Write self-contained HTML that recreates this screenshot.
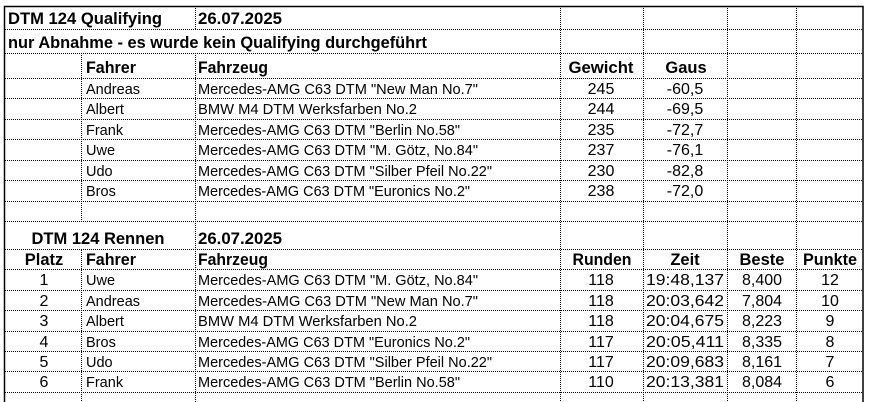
<!DOCTYPE html>
<html><head><meta charset="utf-8"><style>
html,body{margin:0;padding:0;background:#fff;}
svg{display:block;}
text{font-family:"Liberation Sans",sans-serif;fill:#000;}
.b{font-weight:bold;font-size:17px;}
.r{font-size:14.5px;}
.n{font-size:16px;}
.h{font-weight:bold;font-size:16.5px;}
.g line{stroke:#000;stroke-width:1;stroke-dasharray:1,1;}
</style></head><body>
<svg width="875" height="402" viewBox="0 0 875 402" xmlns="http://www.w3.org/2000/svg">
<rect x="0" y="0" width="875" height="402" fill="#fff"/>
<g class="g">
<line x1="5" x2="863" y1="29.5" y2="29.5"/>
<line x1="5" x2="863" y1="53.5" y2="53.5"/>
<line x1="5" x2="863" y1="78.5" y2="78.5"/>
<line x1="5" x2="863" y1="98.5" y2="98.5"/>
<line x1="5" x2="863" y1="119.5" y2="119.5"/>
<line x1="5" x2="863" y1="139.5" y2="139.5"/>
<line x1="5" x2="863" y1="160.5" y2="160.5"/>
<line x1="5" x2="863" y1="180.5" y2="180.5"/>
<line x1="5" x2="863" y1="201.5" y2="201.5"/>
<line x1="5" x2="863" y1="221.5" y2="221.5"/>
<line x1="5" x2="863" y1="249.5" y2="249.5"/>
<line x1="5" x2="863" y1="269.5" y2="269.5"/>
<line x1="5" x2="863" y1="290.5" y2="290.5"/>
<line x1="5" x2="863" y1="310.5" y2="310.5"/>
<line x1="5" x2="863" y1="331.5" y2="331.5"/>
<line x1="5" x2="863" y1="351.5" y2="351.5"/>
<line x1="5" x2="863" y1="371.5" y2="371.5"/>
<line x1="5" x2="863" y1="392.5" y2="392.5"/>
<line x1="81.5" x2="81.5" y1="53" y2="222"/>
<line x1="81.5" x2="81.5" y1="250" y2="402"/>
<line x1="195.5" x2="195.5" y1="6" y2="29"/>
<line x1="195.5" x2="195.5" y1="53" y2="402"/>
<line x1="560.5" x2="560.5" y1="6" y2="402"/>
<line x1="643.5" x2="643.5" y1="6" y2="402"/>
<line x1="727.5" x2="727.5" y1="6" y2="402"/>
<line x1="796.5" x2="796.5" y1="6" y2="402"/>
</g>
<path d="M4.5 402 V6.5 H863 V402" fill="none" stroke="#000" stroke-width="1.5"/>

<text class="b" x="8" y="24" textLength="154" lengthAdjust="spacingAndGlyphs">DTM 124 Qualifying</text>
<text class="b" x="198" y="24" textLength="84" lengthAdjust="spacingAndGlyphs">26.07.2025</text>
<text class="b" x="8" y="48" textLength="419" lengthAdjust="spacingAndGlyphs">nur Abnahme - es wurde kein Qualifying durchgeführt</text>

<text class="h" x="86" y="73" textLength="50" lengthAdjust="spacingAndGlyphs">Fahrer</text>
<text class="h" x="198" y="73" textLength="70" lengthAdjust="spacingAndGlyphs">Fahrzeug</text>
<text class="h" x="601" y="73" text-anchor="middle" textLength="65" lengthAdjust="spacingAndGlyphs">Gewicht</text>
<text class="h" x="686" y="73" text-anchor="middle">Gaus</text>

<g class="r">
<text x="86" y="94">Andreas</text><text x="198" y="94" textLength="280" lengthAdjust="spacingAndGlyphs">Mercedes-AMG C63 DTM "New Man No.7"</text>
<text x="86" y="114">Albert</text><text x="198" y="114" textLength="219" lengthAdjust="spacingAndGlyphs">BMW M4 DTM Werksfarben No.2</text>
<text x="86" y="135">Frank</text><text x="198" y="135" textLength="262" lengthAdjust="spacingAndGlyphs">Mercedes-AMG C63 DTM "Berlin No.58"</text>
<text x="86" y="155">Uwe</text><text x="198" y="155" textLength="280" lengthAdjust="spacingAndGlyphs">Mercedes-AMG C63 DTM "M. Götz, No.84"</text>
<text x="86" y="176">Udo</text><text x="198" y="176" textLength="294" lengthAdjust="spacingAndGlyphs">Mercedes-AMG C63 DTM "Silber Pfeil No.22"</text>
<text x="86" y="196">Bros</text><text x="198" y="196" textLength="272" lengthAdjust="spacingAndGlyphs">Mercedes-AMG C63 DTM "Euronics No.2"</text>
</g>
<g class="n" text-anchor="middle">
<text x="601" y="94">245</text><text x="685" y="94">-60,5</text>
<text x="601" y="114">244</text><text x="685" y="114">-69,5</text>
<text x="601" y="135">235</text><text x="685" y="135">-72,7</text>
<text x="601" y="155">237</text><text x="685" y="155">-76,1</text>
<text x="601" y="176">230</text><text x="685" y="176">-82,8</text>
<text x="601" y="196">238</text><text x="685" y="196">-72,0</text>
</g>

<text class="b" x="98" y="244" text-anchor="middle" textLength="133" lengthAdjust="spacingAndGlyphs">DTM 124 Rennen</text>
<text class="b" x="198" y="244" textLength="84" lengthAdjust="spacingAndGlyphs">26.07.2025</text>

<text class="h" x="44" y="265" text-anchor="middle">Platz</text>
<text class="h" x="86" y="265" textLength="50" lengthAdjust="spacingAndGlyphs">Fahrer</text>
<text class="h" x="198" y="265" textLength="70" lengthAdjust="spacingAndGlyphs">Fahrzeug</text>
<text class="h" x="602" y="265" text-anchor="middle" textLength="59" lengthAdjust="spacingAndGlyphs">Runden</text>
<text class="h" x="685" y="265" text-anchor="middle">Zeit</text>
<text class="h" x="762" y="265" text-anchor="middle">Beste</text>
<text class="h" x="830" y="265" text-anchor="middle" textLength="54" lengthAdjust="spacingAndGlyphs">Punkte</text>

<g class="r">
<text x="86" y="285">Uwe</text><text x="198" y="285" textLength="280" lengthAdjust="spacingAndGlyphs">Mercedes-AMG C63 DTM "M. Götz, No.84"</text>
<text x="86" y="306">Andreas</text><text x="198" y="306" textLength="280" lengthAdjust="spacingAndGlyphs">Mercedes-AMG C63 DTM "New Man No.7"</text>
<text x="86" y="326">Albert</text><text x="198" y="326" textLength="219" lengthAdjust="spacingAndGlyphs">BMW M4 DTM Werksfarben No.2</text>
<text x="86" y="347">Bros</text><text x="198" y="347" textLength="272" lengthAdjust="spacingAndGlyphs">Mercedes-AMG C63 DTM "Euronics No.2"</text>
<text x="86" y="367">Udo</text><text x="198" y="367" textLength="294" lengthAdjust="spacingAndGlyphs">Mercedes-AMG C63 DTM "Silber Pfeil No.22"</text>
<text x="86" y="387">Frank</text><text x="198" y="387" textLength="262" lengthAdjust="spacingAndGlyphs">Mercedes-AMG C63 DTM "Berlin No.58"</text>
</g>
<g class="n" text-anchor="middle">
<text x="44" y="285">1</text><text x="601" y="285">118</text><text x="685" y="285" textLength="78" lengthAdjust="spacingAndGlyphs">19:48,137</text><text x="762" y="285">8,400</text><text x="830" y="285">12</text>
<text x="44" y="306">2</text><text x="601" y="306">118</text><text x="685" y="306" textLength="78" lengthAdjust="spacingAndGlyphs">20:03,642</text><text x="762" y="306">7,804</text><text x="830" y="306">10</text>
<text x="44" y="326">3</text><text x="601" y="326">118</text><text x="685" y="326" textLength="78" lengthAdjust="spacingAndGlyphs">20:04,675</text><text x="762" y="326">8,223</text><text x="830" y="326">9</text>
<text x="44" y="347">4</text><text x="601" y="347">117</text><text x="685" y="347" textLength="78" lengthAdjust="spacingAndGlyphs">20:05,411</text><text x="762" y="347">8,335</text><text x="830" y="347">8</text>
<text x="44" y="367">5</text><text x="601" y="367">117</text><text x="685" y="367" textLength="78" lengthAdjust="spacingAndGlyphs">20:09,683</text><text x="762" y="367">8,161</text><text x="830" y="367">7</text>
<text x="44" y="387">6</text><text x="601" y="387">110</text><text x="685" y="387" textLength="78" lengthAdjust="spacingAndGlyphs">20:13,381</text><text x="762" y="387">8,084</text><text x="830" y="387">6</text>
</g>
</svg>
</body></html>
